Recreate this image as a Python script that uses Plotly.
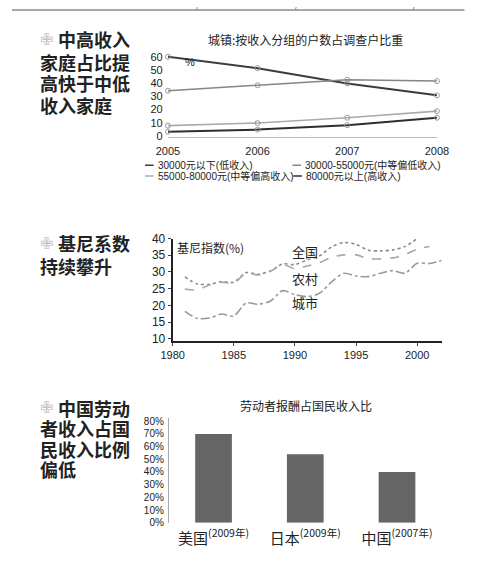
import plotly.graph_objects as go

W, H = 486, 562


def px(x):
    return x / W


def py(y):
    return 1 - y / H


NUM_FONT = "Liberation Sans, Noto Sans CJK SC, sans-serif"
CJK_FONT = "Noto Sans CJK SC, sans-serif"

# ---------------- Chart 1 data: urban households by income group ----------------
years1 = [2005, 2006, 2007, 2008]
income_groups = [
    "30000元以下(低收入)",
    "30000-55000元(中等偏低收入)",
    "55000-80000元(中等偏高收入)",
    "80000元以上(高收入)",
]
low_income = [60.0, 51.4, 39.8, 30.8]
mid_low_income = [34.3, 38.4, 42.6, 41.6]
mid_high_income = [7.8, 9.8, 13.8, 18.8]
high_income = [3.2, 4.8, 8.2, 13.8]
y_ticks1 = [0, 10, 20, 30, 40, 50, 60]

# ---------------- Chart 2 data: Gini coefficient ----------------
years_nat = list(range(1981, 2001))
gini_national = [28.5, 26.4, 26.3, 27.1, 26.9, 29.8, 29.3, 30.3, 32.4, 32.2,
                 33.6, 34.8, 37.5, 38.8, 38.2, 36.5, 36.3, 36.6, 37.6, 40.0]
years_rural = list(range(1981, 2002))
gini_rural = [24.9, 24.6, 26.1, 26.9, 26.7, 29.6, 29.1, 30.2, 32.2, 31.0,
              31.8, 32.8, 34.4, 35.1, 35.1, 34.0, 33.9, 34.2, 35.2, 36.8, 37.6]
years_urban = list(range(1981, 2003))
gini_urban = [18.2, 16.1, 16.2, 17.4, 16.8, 20.7, 20.3, 21.3, 24.4, 23.2,
              22.6, 23.6, 27.0, 29.6, 28.8, 28.6, 29.6, 30.4, 29.6, 32.6, 32.5, 33.4]
gini_names = ["全国", "农村", "城市"]
x_ticks2 = [1980, 1985, 1990, 1995, 2000]
y_ticks2 = [10, 15, 20, 25, 30, 35, 40]

# ---------------- Chart 3 data: labor remuneration share ----------------
countries = ["美国", "日本", "中国"]
data_years = ["2009年", "2009年", "2007年"]
labor_share = [70, 54, 40]
y_ticks3 = [0, 10, 20, 30, 40, 50, 60, 70, 80]

# ---------------- Headline texts ----------------
headlines = [
    ["中高收入", "家庭占比提", "高快于中低", "收入家庭"],
    ["基尼系数", "持续攀升"],
    ["中国劳动", "者收入占国", "民收入比例", "偏低"],
]
headline_rows = [[33, 56, 78, 100], [242, 265], [410, 431, 452, 473]]

fig = go.Figure()

# Chart 1 traces
c1_colors = ["#3c3c3c", "#858585", "#ababab", "#2e2e2e"]
c1_widths = [2, 1.6, 1.6, 2]
for name, vals, col, lw in zip(income_groups,
                               [low_income, mid_low_income, mid_high_income, high_income],
                               c1_colors, c1_widths):
    fig.add_trace(go.Scatter(
        x=years1, y=vals, name=name, mode="lines+markers",
        line=dict(color=col, width=lw),
        marker=dict(symbol="circle-open", size=5, color="#999999", line=dict(width=1)),
        cliponaxis=False, showlegend=False, xaxis="x", yaxis="y"))

# Chart 2 traces
g_styles = [("#8a8a8a", "dot"), ("#a6a6a6", "dash"), ("#999999", "dashdot")]
for name, xs, ys, (col, dash) in zip(gini_names,
                                     [years_nat, years_rural, years_urban],
                                     [gini_national, gini_rural, gini_urban],
                                     g_styles):
    fig.add_trace(go.Scatter(
        x=xs, y=ys, name=name, mode="lines",
        line=dict(color=col, width=1.6, dash=dash, shape="spline", smoothing=0.8),
        cliponaxis=False, showlegend=False, xaxis="x2", yaxis="y2"))

# Chart 3 trace
tick_text3 = [f"{c}<sup>({y})</sup>" for c, y in zip(countries, data_years)]
fig.add_trace(go.Bar(
    x=[0, 1, 2], y=labor_share, width=0.4,
    marker=dict(color="#656565", line=dict(width=0)),
    showlegend=False, xaxis="x3", yaxis="y3"))

# ---------------- Layout ----------------
layout = dict(
    width=W, height=H,
    margin=dict(l=0, r=0, t=0, b=0),
    paper_bgcolor="white", plot_bgcolor="white",
    showlegend=False,
    font=dict(family=NUM_FONT, color="#222222"),
    # Chart 1
    xaxis=dict(domain=[px(164), px(447)], range=[2005, 2008], tickvals=years1,
               showgrid=False, zeroline=False, showline=True, linecolor="#bbbbbb",
               linewidth=1, ticks="outside", ticklen=4, tickcolor="rgba(0,0,0,0)",
               tickfont=dict(size=11, family=NUM_FONT, color="#222")),
    yaxis=dict(domain=[py(133), py(48)], range=[-0.74, 62.2], tickvals=y_ticks1,
               showgrid=False, zeroline=False, showline=False, ticks="outside",
               ticklen=2, tickcolor="rgba(0,0,0,0)",
               tickfont=dict(size=11, family=NUM_FONT, color="#222")),
    # Chart 2
    xaxis2=dict(domain=[px(169), px(452)], range=[1980, 2002], tickvals=x_ticks2,
                showgrid=False, zeroline=False, showline=True, linecolor="#222222",
                linewidth=2, ticks="outside", ticklen=3, tickcolor="#444",
                tickfont=dict(size=11, family=NUM_FONT, color="#222"), anchor="y2"),
    yaxis2=dict(domain=[py(342), py(237)], range=[9.3, 40], tickvals=y_ticks2,
                showgrid=False, zeroline=False, showline=True, linecolor="#222222",
                linewidth=2, ticks="outside", ticklen=3, tickcolor="#444",
                tickfont=dict(size=12, family=NUM_FONT, color="#222"), anchor="x2"),
    # Chart 3
    xaxis3=dict(domain=[px(165), px(455)], range=[-0.487, 2.518], tickvals=[0, 1, 2],
                ticktext=tick_text3, showgrid=False, zeroline=False, showline=False,
                ticks="outside", ticklen=2, tickcolor="rgba(0,0,0,0)",
                tickfont=dict(size=15, family=CJK_FONT, color="#222"), anchor="y3"),
    yaxis3=dict(domain=[py(528), py(421)], range=[0, 82.3], tickvals=y_ticks3,
                ticktext=[f"{v}%" for v in y_ticks3], showgrid=False, zeroline=False,
                showline=True, linecolor="#aaaaaa", linewidth=1, ticks="outside",
                ticklen=2, tickcolor="rgba(0,0,0,0)",
                tickfont=dict(size=10, family=NUM_FONT, color="#222"), anchor="x3"),
)
fig.update_layout(**layout)

annotations = []
shapes = []


def text(x, y, s, size, xanchor="left", yanchor="middle", weight="normal",
         color="#222222", family=CJK_FONT):
    annotations.append(dict(
        x=px(x), y=py(y), xref="paper", yref="paper", text=s, align="left",
        showarrow=False, xanchor=xanchor, yanchor=yanchor,
        font=dict(size=size, family=family, color=color, weight=weight)))


# Left headline blocks; first line prefixed by a pale cross
for lines, rows in zip(headlines, headline_rows):
    for i, (s, yy) in enumerate(zip(lines, rows)):
        if i == 0:
            text(27, yy, "✙", 16, color="#c4c4c4", family="DejaVu Sans")
            text(46, yy, s, 18, weight="bold")
        else:
            text(27, yy, s, 18, weight="bold")

# Chart titles
text(309, 33, "城镇:按收入分组的户数占调查户比重", 12, xanchor="center")
text(309, 408, "劳动者报酬占国民收入比", 12, xanchor="center")
text(180, 56, "%", 11, family=NUM_FONT)

# Chart 1 legend (drawn below the plot)
legend_pos = [(140, 162), (295, 162), (140, 173), (296, 173)]
for (lx, ly), name, col in zip(legend_pos, income_groups, c1_colors):
    shapes.append(dict(type="line", xref="paper", yref="paper",
                       x0=px(lx), x1=px(lx + 9), y0=py(ly), y1=py(ly),
                       line=dict(color=col, width=1.5)))
    text(lx + 11, ly, name, 10, family=NUM_FONT)

# Chart 2 labels
text(171, 246, "基尼指数(%)", 12)
for name, yy in zip(gini_names, [250, 278, 303]):
    text(292, yy, name, 13)

# Top border decoration
shapes.append(dict(type="line", xref="paper", yref="paper",
                   x0=0, x1=px(476), y0=py(3), y1=py(3),
                   line=dict(color="#8a8a8a", width=1.5)))
for xx in [194, 298, 422]:
    shapes.append(dict(type="line", xref="paper", yref="paper",
                       x0=px(xx), x1=px(xx + 1), y0=py(3), y1=py(0),
                       line=dict(color="#8a8a8a", width=1)))

fig.update_layout(annotations=annotations, shapes=shapes)
fig.write_html("out.html", config={"displayModeBar": False},
               post_script="document.body.style.margin='0px';document.body.style.padding='0px';")
